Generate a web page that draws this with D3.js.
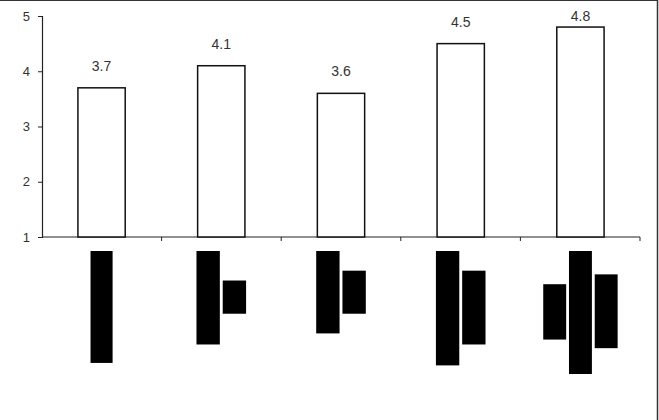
<!DOCTYPE html>
<html>
<head>
<meta charset="utf-8">
<script src="https://cdn.jsdelivr.net/npm/d3@7"></script>
<style>
  body { margin: 0; background: #fff; }
  svg { display: block; font-family: "Liberation Sans", Arial, sans-serif; }
</style>
</head>
<body>
<div id="chart"></div>
<script>
// chart values
let categories = ["A", "B", "C", "D", "E"];
let scores = [3.7, 4.1, 3.6, 4.5, 4.8];
let scoreLabels = ["3.7", "4.1", "3.6", "4.5", "4.8"];
let yTicks = [1, 2, 3, 4, 5];
// glyph blocks under each category: [start, end] on a 0-10 depth scale
let glyphs = [
  [[0, 9.1]],
  [[0, 7.6], [2.4, 5.1]],
  [[0, 6.7], [1.6, 5.1]],
  [[0, 9.3], [1.6, 7.6]],
  [[2.7, 7.2], [0, 10], [1.9, 7.9]]
];

let W = 659, H = 420;
let margin = {top: 16, left: 42, right: 19, axisY: 237};

let svg = d3.select("#chart").append("svg")
    .attr("width", W)
    .attr("height", H);

// frame (top and right edges only)
svg.append("line").attr("x1", 0).attr("x2", 658).attr("y1", 0.5).attr("y2", 0.5)
  .attr("stroke", "#333").attr("stroke-width", 1.2);
svg.append("line").attr("x1", 657.5).attr("x2", 657.5).attr("y1", 0).attr("y2", H)
  .attr("stroke", "#333").attr("stroke-width", 1.5);

let x = d3.scaleBand()
  .domain(categories)
  .range([margin.left, W - margin.right])
  .paddingInner(0.605)
  .paddingOuter(0.3);

let y = d3.scaleLinear()
  .domain([1, 5])
  .range([margin.axisY, margin.top]);

// y axis
let yAxis = svg.append("g")
  .attr("transform", "translate(" + margin.left + ",0)")
  .call(d3.axisLeft(y).tickValues(yTicks).tickSize(4).tickPadding(8).tickFormat(d3.format("d")));
yAxis.select(".domain").attr("stroke", "#222").attr("stroke-width", 1.2);
yAxis.selectAll(".tick line").attr("stroke", "#222");
yAxis.selectAll("text").attr("font-size", "13px").attr("fill", "#333")
  .attr("font-family", "Liberation Sans, Arial, sans-serif");

// x axis with category boundary ticks
let bounds = d3.range(categories.length + 1).map(i => margin.left + i * (W - margin.right - margin.left) / categories.length);
svg.append("line")
  .attr("x1", margin.left).attr("x2", W - margin.right)
  .attr("y1", y(1)).attr("y2", y(1))
  .attr("stroke", "#222").attr("stroke-width", 1.2);
svg.selectAll(".xtick").data(bounds.slice(1)).enter().append("line")
  .attr("x1", d => d).attr("x2", d => d)
  .attr("y1", y(1)).attr("y2", y(1) + 4)
  .attr("stroke", "#222");

// bars
svg.selectAll(".bar").data(scores).enter().append("rect")
  .attr("x", (d, i) => x(categories[i]))
  .attr("y", d => y(d))
  .attr("width", x.bandwidth())
  .attr("height", d => y(1) - y(d))
  .attr("fill", "#fff")
  .attr("stroke", "#111")
  .attr("stroke-width", 1.5);

// value labels
svg.selectAll(".lbl").data(scores).enter().append("text")
  .attr("x", (d, i) => x(categories[i]) + x.bandwidth() / 2)
  .attr("y", d => Math.max(y(d) - 17, y(5) + 5))
  .attr("text-anchor", "middle")
  .attr("font-size", "14px")
  .attr("fill", "#333")
  .text((d, i) => scoreLabels[i]);

// glyphs below axis
let gy = d3.scaleLinear().domain([0, 10]).range([251, 374]);
categories.forEach((c, i) => {
  let blocks = glyphs[i];
  let cx = x(c) + x.bandwidth() / 2;
  let inner = d3.scaleBand()
    .domain(d3.range(blocks.length))
    .range([cx - blocks.length * 24.8 / 2, cx + blocks.length * 24.8 / 2])
    .paddingInner(0.11);
  svg.selectAll(".g" + i).data(blocks).enter().append("rect")
    .attr("x", (d, j) => inner(j))
    .attr("y", d => gy(d[0]))
    .attr("width", inner.bandwidth())
    .attr("height", d => gy(d[1]) - gy(d[0]))
    .attr("fill", "#000");
});
</script>
</body>
</html>
